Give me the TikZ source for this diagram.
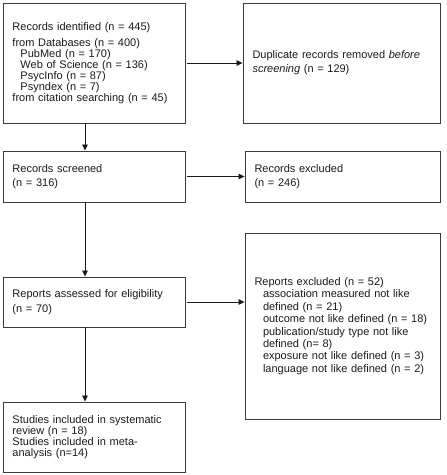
\documentclass[tikz,border=0pt]{standalone}
\usepackage{fontspec}
\setmainfont{Liberation Sans}
\usetikzlibrary{arrows.meta, positioning}
\definecolor{frame}{HTML}{3A3A3A}
\definecolor{ink}{HTML}{1A1A1A}

\begin{document}
\begin{tikzpicture}[
    x=1pt, y=-1pt,
    font=\fontsize{11}{14}\selectfont,
    box/.style={draw=frame, line width=0.9pt, inner xsep=9.5pt, inner ysep=2pt, align=left, text=ink},
    lbox/.style={box, minimum width=182pt, text width=163pt},
    rbox/.style={box, minimum width=195pt, text width=176pt},
    ar/.style={-{Triangle[length=6pt, width=5.5pt]}, ink, line width=0.8pt, shorten <=2pt}
  ]
    \useasboundingbox (0,0) rectangle (447,475);
    \node[lbox, minimum height=120pt, font=\fontsize{11}{11}\selectfont] (ident) at (94,63) {Records identified (n = 445)\\[4.8pt]
      from Databases (n = 400)\\
      \hspace*{8pt}PubMed (n = 170)\\
      \hspace*{8pt}Web of Science (n = 136)\\
      \hspace*{8pt}PsycInfo (n = 87)\\
      \hspace*{8pt}Psyndex (n = 7)\\
      from citation searching (n = 45)};
    \node[box, minimum width=197pt, text width=178pt, minimum height=120pt] (dup) at (341.5,63) {Duplicate records removed \textit{before}\\ \textit{screening} (n = 129)};
    \node[lbox, minimum height=51pt] (screen) at (94,176.5) {Records screened\\ (n = 316)};
    \node[rbox, minimum height=51pt] (excl) at (342.5,176.5) {Records excluded\\ (n = 246)};
    \node[lbox, minimum height=50pt, font=\fontsize{11}{15}\selectfont] (assess) at (94,302) {Reports assessed for eligibility\\ (n = 70)};
    \node[rbox, minimum height=186pt, font=\fontsize{11}{12.4}\selectfont] (repexcl) at (342.5,326) {Reports excluded (n = 52)\\
      \hspace*{8.5pt}association measured not like\\
      \hspace*{8.5pt}defined (n = 21)\\
      \hspace*{8.5pt}outcome not like defined (n = 18)\\
      \hspace*{8.5pt}publication/study type not like\\
      \hspace*{8.5pt}defined (n= 8)\\
      \hspace*{8.5pt}exposure not like defined (n = 3)\\
      \hspace*{8.5pt}language not like defined (n = 2)};
    \node[lbox, minimum height=70pt, font=\fontsize{11}{11.2}\selectfont] (incl) at (94,437) {Studies included in systematic\\ review (n = 18)\\ Studies included in meta-\\ analysis (n=14)};
    \draw[ar] (ident.east) -- (dup.west);
    \draw[ar] (screen.east) -- (excl.west);
    \draw[ar] (assess.east) -- (assess.east -| repexcl.west);
    \draw[ar, shorten <=0pt] ([xshift=-9pt]ident.south) -- ([xshift=-9pt]screen.north);
    \draw[ar, shorten <=0pt] ([xshift=-9pt]screen.south) -- ([xshift=-9pt]assess.north);
    \draw[ar, shorten <=0pt] ([xshift=-9pt]assess.south) -- ([xshift=-9pt]incl.north);
\end{tikzpicture}
\end{document}
